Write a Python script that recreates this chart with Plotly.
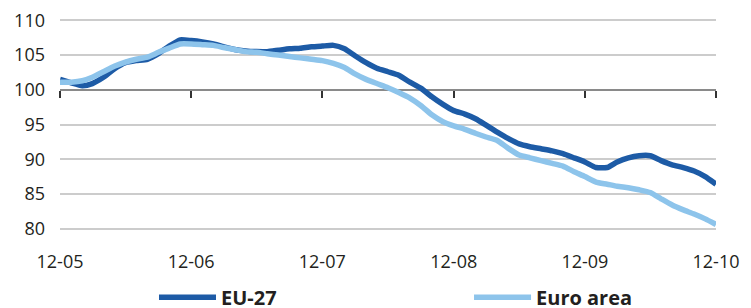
import plotly.graph_objects as go
import pandas as pd

months = pd.date_range("2005-12-01", "2010-12-01", freq="MS")

eu27 = [101.5, 101.0, 100.6, 100.9, 101.8, 103.0, 103.9, 104.2, 104.4, 105.2,
        106.3, 107.2, 107.1, 106.9, 106.6, 106.2, 105.8, 105.6, 105.5, 105.5,
        105.7, 105.9, 106.0, 106.2, 106.3, 106.4, 105.9, 104.9, 103.9, 103.1,
        102.6, 102.1, 101.1, 100.2, 99.0, 97.9, 97.0, 96.5, 95.8, 94.9,
        93.9, 93.0, 92.2, 91.8, 91.5, 91.2, 90.8, 90.2, 89.6, 88.8,
        88.8, 89.6, 90.2, 90.5, 90.5, 89.8, 89.2, 88.8, 88.3, 87.5, 86.4]

euro_area = [101.1, 101.1, 101.3, 101.8, 102.6, 103.4, 104.0, 104.4, 104.7, 105.4,
             106.0, 106.6, 106.6, 106.5, 106.4, 106.1, 105.8, 105.5, 105.4, 105.2,
             105.0, 104.8, 104.6, 104.4, 104.2, 103.8, 103.2, 102.3, 101.5, 100.9,
             100.3, 99.6, 98.8, 97.7, 96.4, 95.4, 94.8, 94.3, 93.7, 93.2,
             92.7, 91.6, 90.6, 90.2, 89.8, 89.4, 89.0, 88.2, 87.5, 86.7,
             86.4, 86.1, 85.9, 85.6, 85.2, 84.3, 83.4, 82.7, 82.1, 81.4, 80.6]

tick_dates = pd.date_range("2005-12-01", "2010-12-01", freq="12MS")
tick_labels = ["12-05", "12-06", "12-07", "12-08", "12-09", "12-10"]
y_ticks = [80, 85, 90, 95, 100, 105, 110]
y_min, y_max = 79.8, 110.2
base_value = 100

DARK = "#1d5ba6"
LIGHT = "#8dc4eb"
TXT = "#231f20"

fig = go.Figure()
fig.add_trace(go.Scatter(x=months, y=eu27, name="EU-27", mode="lines", legend="legend",
                         line=dict(color=DARK, width=5.5, shape="spline", smoothing=0.5)))
fig.add_trace(go.Scatter(x=months, y=euro_area, name="Euro area", mode="lines", legend="legend2",
                         line=dict(color=LIGHT, width=5.5, shape="spline", smoothing=0.5)))

legend_common = dict(orientation="h", xref="container", yref="container",
                     y=0.036, xanchor="left", yanchor="middle", itemwidth=57,
                     font=dict(family="Open Sans", size=20, color=TXT, weight="bold"),
                     bgcolor="rgba(0,0,0,0)", borderwidth=0)

fig.update_layout(
    width=743, height=300,
    margin=dict(l=52, r=35, t=11, b=78, autoexpand=False),
    plot_bgcolor="white", paper_bgcolor="white",
    font=dict(family="Open Sans", size=18, color=TXT),
    showlegend=True,
    legend=dict(x=0.1965, **legend_common),
    legend2=dict(x=0.6205, **legend_common),
    xaxis=dict(range=[months[0], months[-1]], tickvals=tick_dates, ticktext=tick_labels,
               showgrid=False, showline=False, zeroline=False, ticks="",
               ticklabelstandoff=19, automargin=False, ticklabeloverflow="allow"),
    xaxis2=dict(matches="x", overlaying="x", anchor="free",
                position=(base_value - y_min) / (y_max - y_min),
                tickvals=tick_dates, showticklabels=False, ticks="outside",
                ticklen=7, tickwidth=1.5, tickcolor="#333333",
                showline=True, linecolor="#8a8a8a", linewidth=2,
                showgrid=False, zeroline=False, layer="below traces", automargin=False),
    yaxis=dict(range=[y_min, y_max], tickvals=y_ticks, showgrid=True,
               gridcolor="#cccccc", gridwidth=1.5, zeroline=False, showline=False,
               ticks="", ticklabelstandoff=14, automargin=False, ticklabeloverflow="allow"),
)
# invisible trace to activate xaxis2
fig.add_trace(go.Scatter(x=[months[0], months[-1]], y=[base_value, base_value], xaxis="x2",
                         mode="lines", line=dict(width=0), showlegend=False, hoverinfo="skip"))

fig.write_html("out.html")
